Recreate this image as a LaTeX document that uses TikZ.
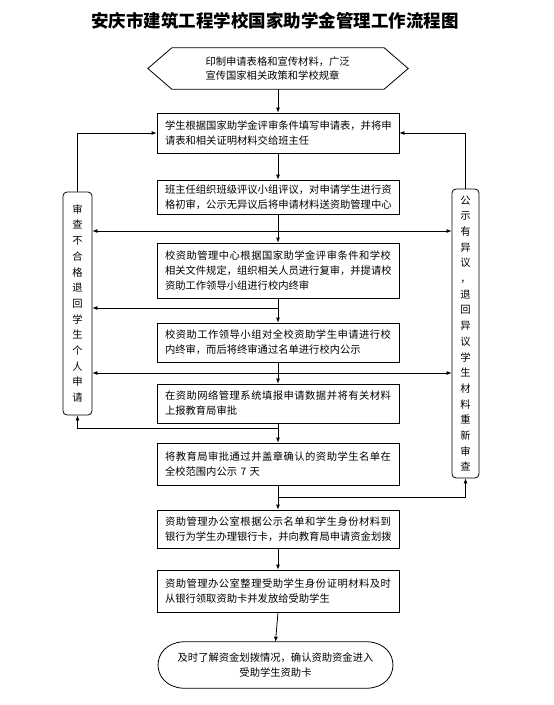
\documentclass[tikz,border=0pt]{standalone}
\usepackage{fontspec}
\setmainfont{Noto Sans CJK SC}
\usetikzlibrary{arrows.meta,calc}
\newlength\jw \setlength\jw{226pt}
\def\jend{}
\def\jl#1{\leavevmode\hbox to \jw{\jfirst#1\jend}}
\def\jfirst#1{#1\jnext}
\def\jnext#1{\ifx#1\jend\else\hfil#1\expandafter\jnext\fi}
\begin{document}
\begin{tikzpicture}[x=1pt,y=-1pt,
  box/.style={draw, line width=0.8pt, text width=226pt, inner xsep=8pt, inner ysep=0pt, align=left, font=\fontsize{10.3}{15}\selectfont},
  side/.style={draw, line width=0.8pt, rounded corners=4pt, inner sep=0pt, align=center, font=\fontsize{10.3}{15.7}\selectfont},
  conn/.style={line width=0.8pt, -{Latex[length=5pt,width=4pt]}},
  plain/.style={line width=0.8pt}]
\useasboundingbox[fill=white] (0,0) rectangle (554,705);
\node[font=\bfseries\fontsize{17.5}{20}\selectfont] (title) at (275,21) {安庆市建筑工程学校国家助学金管理工作流程图};
% hexagon
\node[minimum width=260pt, minimum height=41pt, inner sep=0pt, text width=145pt, align=left, font=\fontsize{10.3}{14}\selectfont] (hex) at (278,68.5) {印制申请表格和宣传材料，广泛\\宣传国家相关政策和学校规章};
\draw[plain] (hex.west) -- ($(hex.north west)+(24,0)$) -- ($(hex.north east)+(-24,0)$) -- (hex.east) -- ($(hex.south east)+(-24,0)$) -- ($(hex.south west)+(24,0)$) -- cycle;
% main boxes
\node[box, minimum height=40pt] (b2) at (278,133) {\jl{学生根据国家助学金评审条件填写申请表，并将申}\\请表和相关证明材料交给班主任};
\node[box, minimum height=34pt] (b3) at (278,197) {\jl{班主任组织班级评议小组评议，对申请学生进行资}\\\jl{格初审，公示无异议后将申请材料送资助管理中心}};
\node[box, minimum height=55pt] (b4) at (278,270.5) {\jl{校资助管理中心根据国家助学金评审条件和学校}\\\jl{相关文件规定，组织相关人员进行复审，并提请校}\\资助工作领导小组进行校内终审};
\node[box, minimum height=39pt] (b5) at (278,342.5) {\jl{校资助工作领导小组对全校资助学生申请进行校}\\内终审，而后将终审通过名单进行校内公示};
\node[box, minimum height=39pt] (b6) at (278,403.5) {\jl{在资助网络管理系统填报申请数据并将有关材料}\\上报教育局审批};
\node[box, minimum height=42pt] (b7) at (278,464) {\jl{将教育局审批通过并盖章确认的资助学生名单在}\\全校范围内公示 7 天};
\node[box, minimum height=38pt] (b8) at (278,529) {\jl{资助管理办公室根据公示名单和学生身份材料到}\\\jl{银行为学生办理银行卡，并向教育局申请资金划拨}};
\node[box, minimum height=42pt] (b9) at (278,591) {\jl{资助管理办公室整理受助学生身份证明材料及时}\\从银行领取资助卡并发放给受助学生};
% terminal
\node[minimum width=235pt, minimum height=46pt, inner sep=0pt, align=center, font=\fontsize{10.3}{15}\selectfont] (t) at (275.5,665) {及时了解资金划拨情况，确认资助资金进入\\受助学生资助卡};
\draw[plain] ($(t.north west)+(25,0)$) -- ($(t.north east)+(-25,0)$)
  .. controls ($(t.north east)+(8,2)$) and ($(t.south east)+(8,-2)$) .. ($(t.south east)+(-25,0)$)
  -- ($(t.south west)+(25,0)$)
  .. controls ($(t.south west)+(-8,-2)$) and ($(t.north west)+(-8,2)$) .. cycle;
% side boxes
\node[side, minimum width=29pt, minimum height=223pt] (lb) at (77.5,303.5) {审\\查\\不\\合\\格\\退\\回\\学\\生\\个\\人\\申\\请};
\node[side, minimum width=27pt, minimum height=289pt] (rb) at (465.5,333.5) {公\\示\\有\\异\\议\\，\\退\\回\\异\\议\\学\\生\\材\\料\\重\\新\\审\\查};
% main flow
\draw[conn] (hex.south) -- (b2.north);
\draw[conn] (b2.south) -- (b3.north);
\draw[conn] (b3.south) -- (b4.north);
\draw[conn] (b4.south) -- (b5.north);
\draw[conn] (b5.south) -- (b6.north);
\draw[conn] (b6.south) -- (b7.north);
\draw[conn] (b7.south) -- (b8.north);
\draw[conn] (b8.south) -- (b9.north);
\draw[conn] (b9.south) -- (t.north);
% junctions
\coordinate (j1) at (278,231);
\coordinate (j2) at (278,308);
\coordinate (j3) at (278,373);
\coordinate (j4) at (278,428);
\coordinate (j5) at (278,497);
\draw[conn] (j1) -- (j1 -| lb.east);
\draw[conn] (j1) -- (j1 -| rb.west);
\draw[conn] (j2) -- (j2 -| lb.east);
\draw[conn] (j3) -- (j3 -| lb.east);
\draw[conn] (j3) -- (j3 -| rb.west);
\draw[conn] (j4) -| (lb.south);
\draw[conn] (j5) -| (rb.south);
\draw[conn] (lb.north) |- (b2.west);
\draw[conn] (rb.north) |- (b2.east);
\end{tikzpicture}
\end{document}
